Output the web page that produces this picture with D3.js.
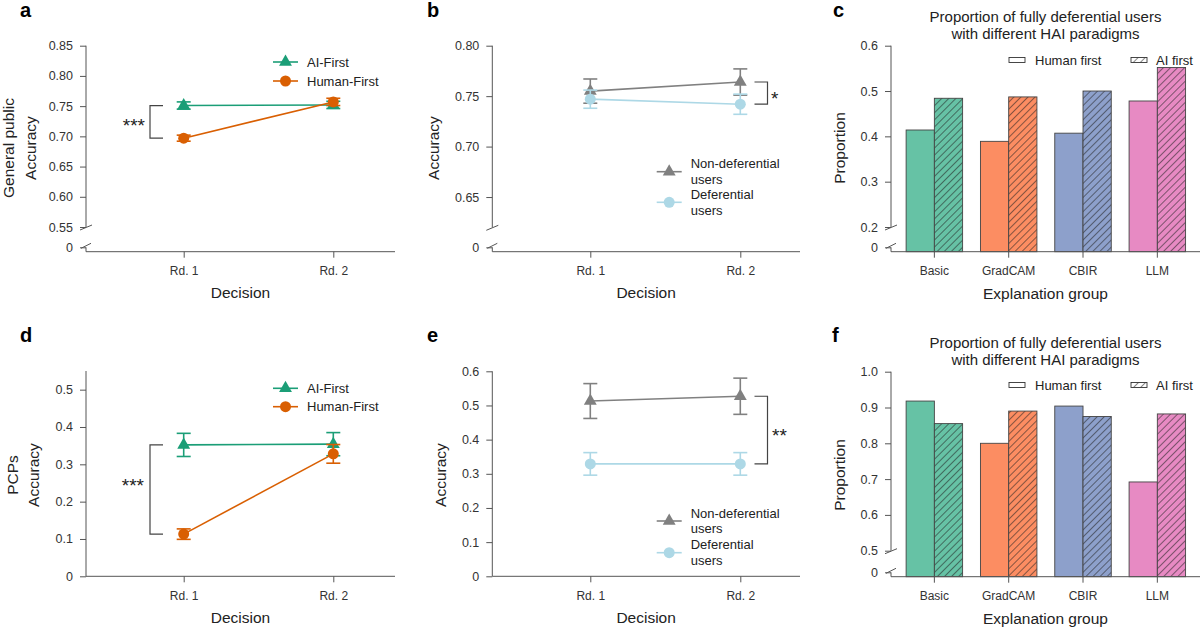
<!DOCTYPE html>
<html lang="en">
<head>
<meta charset="UTF-8">
<title>Deferential users and HAI paradigms</title>
<script src="https://d3js.org/d3.v7.min.js"></script>
<style>
  body { margin: 0; background: #fff; font-family: "Liberation Sans", Arial, sans-serif; }
  svg text { fill: #222; }
</style>
</head>
<body>
<svg id="fig" width="1200" height="627"></svg>
<script>
// ---- data ----
const rounds = ["Rd. 1", "Rd. 2"];
const groups = ["Basic", "GradCAM", "CBIR", "LLM"];

// a: general public
const aAIFirst = [0.751, 0.752];
const aAIFirstErr = [0.006, 0.006];
const aHumanFirst = [0.697, 0.757];
const aHumanFirstErr = [0.005, 0.006];
const aTicks = [0, 0.55, 0.60, 0.65, 0.70, 0.75, 0.80, 0.85];

// b: general public, deferential vs not
const bNonDef = [0.755, 0.764];
const bNonDefErr = [0.012, 0.013];
const bDef = [0.747, 0.742];
const bDefErr = [0.009, 0.010];
const bTicks = [0, 0.65, 0.70, 0.75, 0.80];

// c: proportion of fully deferential users (general public)
const cHumanFirst = [0.414, 0.389, 0.407, 0.478];
const cAIFirst = [0.484, 0.487, 0.500, 0.552];
const cTicks = [0, 0.2, 0.3, 0.4, 0.5, 0.6];

// d: PCPs
const dAIFirst = [0.352, 0.354];
const dAIFirstErr = [0.031, 0.031];
const dHumanFirst = [0.113, 0.328];
const dHumanFirstErr = [0.014, 0.025];
const dTicks = [0, 0.1, 0.2, 0.3, 0.4, 0.5];

// e: PCPs, deferential vs not
const eNonDef = [0.513, 0.527];
const eNonDefErr = [0.051, 0.053];
const eDef = [0.329, 0.329];
const eDefErr = [0.033, 0.033];
const eTicks = [0, 0.1, 0.2, 0.3, 0.4, 0.5, 0.6];

// f: proportion of fully deferential users (PCPs)
const fHumanFirst = [0.918, 0.800, 0.904, 0.692];
const fAIFirst = [0.855, 0.890, 0.875, 0.882];
const fTicks = [0, 0.5, 0.6, 0.7, 0.8, 0.9, 1.0];

const groupColors = ["#66c2a5", "#fc8d62", "#8da0cb", "#e78ac3"];
const green = "#1b9e77", orange = "#d95f02", grey = "#808080", lightBlue = "#add8e6";
const axisColor = "#555";

const svg = d3.select("#fig");

// hatch for "AI first" bars
svg.append("defs").append("pattern")
    .attr("id", "hatch")
    .attr("patternUnits", "userSpaceOnUse")
    .attr("width", 5).attr("height", 5)
    .attr("patternTransform", "rotate(45)")
  .append("line")
    .attr("x1", 0).attr("y1", 0).attr("x2", 0).attr("y2", 5)
    .attr("stroke", "#222").attr("stroke-width", 1.1);

function fmtTick(digits) {
    return d => d === 0 ? "0" : d3.format("." + digits + "f")(d);
}

function panelLetter(t, x, y) {
    svg.append("text").attr("x", x).attr("y", y)
        .attr("font-size", 20).attr("font-weight", "bold")
        .style("fill", "#000").text(t);
}

function line(g, x1, y1, x2, y2, color, w) {
    g.append("line").attr("x1", x1).attr("y1", y1).attr("x2", x2).attr("y2", y2)
        .attr("stroke", color || axisColor).attr("stroke-width", w || 1);
}

// y axis with optional break, plus the x axis base line
function drawAxes(g, o, x) {
    const ax = g.append("g").attr("transform", `translate(${o.x0},0)`)
        .call(d3.axisLeft(o.y).tickValues(o.ticks).tickFormat(o.fmt).tickSize(6).tickPadding(7))
        .call(a => a.select(".domain").remove());
    ax.selectAll("line").attr("stroke", axisColor);
    ax.selectAll("text").attr("font-size", 12.5).style("fill", "#333")
        .attr("font-family", "Liberation Sans, Arial, sans-serif");

    if (o.brk != null) {
        const yb = o.y(o.brk), y0 = o.y(0);
        line(g, o.x0, o.y(o.top), o.x0, yb);
        line(g, o.x0 - 6, yb + 3, o.x0 + 6, yb - 2);
        line(g, o.x0, y0, o.x0, o.axisY);
        line(g, o.x0 - 5, y0 + 1, o.x0 + 5, y0 - 4);
    } else {
        line(g, o.x0, o.y(o.top), o.x0, o.axisY);
    }
    line(g, o.x0, o.axisY, o.x1, o.axisY);

    const bx = g.append("g").attr("transform", `translate(0,${o.axisY})`)
        .call(d3.axisBottom(x).tickSize(6).tickPadding(9).tickSizeOuter(0))
        .call(a => a.select(".domain").remove());
    bx.selectAll("line").attr("stroke", axisColor);
    bx.selectAll("text").attr("font-size", 12).style("fill", "#333")
        .attr("font-family", "Liberation Sans, Arial, sans-serif");

    const cx = (o.x0 + o.x1) / 2;
    g.append("text").attr("x", cx).attr("y", o.xLabelY).attr("text-anchor", "middle")
        .attr("font-size", 15.5).text(o.xLabel);
    o.yLabels.forEach(l => {
        g.append("text").attr("transform", `translate(${l.x},${o.yLabelCy}) rotate(-90)`)
            .attr("text-anchor", "middle").attr("font-size", 15.5).text(l.text);
    });
}

function marker(g, sym, cx, cy, color) {
    if (sym === "tri") {
        g.append("path").attr("d", d3.symbol(d3.symbolTriangle, 72)())
            .attr("transform", `translate(${cx},${cy})`).attr("fill", color);
    } else {
        g.append("circle").attr("cx", cx).attr("cy", cy).attr("r", 5.5).attr("fill", color);
    }
}

function linePanel(o) {
    const g = svg.append("g");
    const x = d3.scalePoint().domain(rounds).range(o.xr);
    drawAxes(g, o, x);

    o.series.forEach(s => {
        const pts = rounds.map((r, i) => ({
            x: x(r), y: o.y(s.vals[i]),
            hi: o.y(s.vals[i] + s.errs[i]), lo: o.y(s.vals[i] - s.errs[i])
        }));
        g.append("path").attr("d", d3.line().x(d => d.x).y(d => d.y)(pts))
            .attr("fill", "none").attr("stroke", s.color).attr("stroke-width", 1.6);
        pts.forEach(p => {
            line(g, p.x, p.hi, p.x, p.lo, s.color, 1.6);
            line(g, p.x - 7, p.hi, p.x + 7, p.hi, s.color, 1.6);
            line(g, p.x - 7, p.lo, p.x + 7, p.lo, s.color, 1.6);
            marker(g, s.sym, p.x, p.y, s.color);
        });
    });

    // legend
    o.series.forEach((s, i) => {
        const ly = o.legend.ys[i];
        line(g, o.legend.x, ly, o.legend.x + 25, ly, s.color, 1.6);
        marker(g, s.sym, o.legend.x + 12.5, ly, s.color);
        s.label.forEach((t, j) => {
            g.append("text").attr("x", o.legend.x + 34).attr("y", ly + 4.5 + (j - (s.label.length - 1) / 2) * 15.5)
                .attr("font-size", 13).text(t);
        });
    });

    // significance bracket
    const b = o.bracket;
    const y1 = o.y(b.v1), y2 = o.y(b.v2);
    const dir = b.side === "left" ? 1 : -1;
    g.append("path")
        .attr("d", `M${b.x + dir * 13},${y1}H${b.x}V${y2}H${b.x + dir * 13}`)
        .attr("fill", "none").attr("stroke", "#444").attr("stroke-width", 1.2);
    g.append("text").attr("x", b.tx).attr("y", b.ty)
        .attr("text-anchor", b.side === "left" ? "end" : "start")
        .attr("font-size", 19).style("fill", "#222").text(b.stars);
}

function barPanel(o) {
    const g = svg.append("g");
    const x = d3.scaleBand().domain(groups).range(o.xr).paddingInner(0.24).paddingOuter(0.12);
    const xs = d3.scaleBand().domain(["human", "ai"]).range([0, x.bandwidth()]);

    groups.forEach((name, i) => {
        const hy = o.y(o.human[i]), ay = o.y(o.ai[i]);
        g.append("rect").attr("x", x(name) + xs("human")).attr("y", hy)
            .attr("width", xs.bandwidth()).attr("height", o.axisY - hy)
            .attr("fill", groupColors[i]).attr("stroke", "#444").attr("stroke-width", 0.9);
        g.append("rect").attr("x", x(name) + xs("ai")).attr("y", ay)
            .attr("width", xs.bandwidth()).attr("height", o.axisY - ay)
            .attr("fill", groupColors[i]);
        g.append("rect").attr("x", x(name) + xs("ai")).attr("y", ay)
            .attr("width", xs.bandwidth()).attr("height", o.axisY - ay)
            .attr("fill", "url(#hatch)").attr("stroke", "#444").attr("stroke-width", 0.9);
    });
    drawAxes(g, o, x);

    // title
    o.title.forEach((t, j) => {
        g.append("text").attr("x", (o.x0 + o.x1) / 2).attr("y", o.titleY + j * 17)
            .attr("text-anchor", "middle").attr("font-size", 15).text(t);
    });

    // legend
    const ly = o.legendY;
    g.append("rect").attr("x", 1009).attr("y", ly - 2.5).attr("width", 16).attr("height", 5)
        .attr("fill", "#fff").attr("stroke", "#333").attr("stroke-width", 0.9);
    g.append("text").attr("x", 1035).attr("y", ly + 4.5).attr("font-size", 13).text("Human first");
    g.append("rect").attr("x", 1131).attr("y", ly - 2.5).attr("width", 16).attr("height", 5)
        .attr("fill", "url(#hatch)").attr("stroke", "#333").attr("stroke-width", 0.9);
    g.append("text").attr("x", 1156).attr("y", ly + 4.5).attr("font-size", 13).text("AI first");
}

// ---- panel a ----
linePanel({
    x0: 86, x1: 395, xr: [183.7, 333.3],
    y: d3.scaleLinear().domain([0, 0.55, 0.85]).range([247.3, 227, 45.7]),
    ticks: aTicks, fmt: fmtTick(2), brk: 0.55, top: 0.85, axisY: 251.7,
    xLabel: "Decision", xLabelY: 297.5,
    yLabels: [{ text: "General public", x: 14 }, { text: "Accuracy", x: 36 }], yLabelCy: 148,
    series: [
        { vals: aAIFirst, errs: aAIFirstErr, color: green, sym: "tri", label: ["AI-First"] },
        { vals: aHumanFirst, errs: aHumanFirstErr, color: orange, sym: "circle", label: ["Human-First"] }
    ],
    legend: { x: 273, ys: [62, 81] },
    bracket: { x: 150, v1: aAIFirst[0], v2: aHumanFirst[0], side: "left", stars: "***", tx: 145, ty: 132 }
});

// ---- panel b ----
linePanel({
    x0: 492.3, x1: 800, xr: [590.3, 740.3],
    y: d3.scaleLinear().domain([0, 0.62, 0.80]).range([247.3, 227.3, 45.7]),
    ticks: bTicks, fmt: fmtTick(2), brk: 0.62, top: 0.80, axisY: 251.7,
    xLabel: "Decision", xLabelY: 297.5,
    yLabels: [{ text: "Accuracy", x: 439 }], yLabelCy: 148,
    series: [
        { vals: bNonDef, errs: bNonDefErr, color: grey, sym: "tri", label: ["Non-deferential", "users"] },
        { vals: bDef, errs: bDefErr, color: lightBlue, sym: "circle", label: ["Deferential", "users"] }
    ],
    legend: { x: 656.7, ys: [171.7, 202.3] },
    bracket: { x: 767.5, v1: bNonDef[1], v2: bDef[1], side: "right", stars: "*", tx: 771, ty: 105 }
});

// ---- panel c ----
barPanel({
    x0: 891, x1: 1200, xr: [897.2, 1194.5],
    y: d3.scaleLinear().domain([0, 0.2, 0.6]).range([247.3, 227, 45.7]),
    ticks: cTicks, fmt: fmtTick(1), brk: 0.2, top: 0.6, axisY: 251.7,
    xLabel: "Explanation group", xLabelY: 298.5,
    yLabels: [{ text: "Proportion", x: 845 }], yLabelCy: 148,
    human: cHumanFirst, ai: cAIFirst,
    title: ["Proportion of fully deferential users", "with different HAI paradigms"], titleY: 21.5,
    legendY: 60
});

// ---- panel d ----
linePanel({
    x0: 86, x1: 395, xr: [183.7, 333.3],
    y: d3.scaleLinear().domain([0, 0.55]).range([576.3, 371]),
    ticks: dTicks, fmt: fmtTick(1), brk: null, top: 0.55, axisY: 576.3,
    xLabel: "Decision", xLabelY: 623,
    yLabels: [{ text: "PCPs", x: 18 }, { text: "Accuracy", x: 39 }], yLabelCy: 475,
    series: [
        { vals: dAIFirst, errs: dAIFirstErr, color: green, sym: "tri", label: ["AI-First"] },
        { vals: dHumanFirst, errs: dHumanFirstErr, color: orange, sym: "circle", label: ["Human-First"] }
    ],
    legend: { x: 273, ys: [388.3, 406.7] },
    bracket: { x: 150, v1: dAIFirst[0], v2: dHumanFirst[0], side: "left", stars: "***", tx: 144, ty: 492 }
});

// ---- panel e ----
linePanel({
    x0: 492.3, x1: 800, xr: [590.3, 740.3],
    y: d3.scaleLinear().domain([0, 0.6]).range([576.3, 371.3]),
    ticks: eTicks, fmt: fmtTick(1), brk: null, top: 0.6, axisY: 576.3,
    xLabel: "Decision", xLabelY: 623,
    yLabels: [{ text: "Accuracy", x: 446 }], yLabelCy: 475,
    series: [
        { vals: eNonDef, errs: eNonDefErr, color: grey, sym: "tri", label: ["Non-deferential", "users"] },
        { vals: eDef, errs: eDefErr, color: lightBlue, sym: "circle", label: ["Deferential", "users"] }
    ],
    legend: { x: 656.7, ys: [521, 552.7] },
    bracket: { x: 767.5, v1: eNonDef[1], v2: eDef[1], side: "right", stars: "**", tx: 772, ty: 442 }
});

// ---- panel f ----
barPanel({
    x0: 891, x1: 1200, xr: [897.2, 1194.5],
    y: d3.scaleLinear().domain([0, 0.5, 1.0]).range([572.3, 550.7, 371.7]),
    ticks: fTicks, fmt: fmtTick(1), brk: 0.5, top: 1.0, axisY: 576.7,
    xLabel: "Explanation group", xLabelY: 623.5,
    yLabels: [{ text: "Proportion", x: 845 }], yLabelCy: 475,
    human: fHumanFirst, ai: fAIFirst,
    title: ["Proportion of fully deferential users", "with different HAI paradigms"], titleY: 347.5,
    legendY: 385
});

panelLetter("a", 20, 17);
panelLetter("b", 427, 17);
panelLetter("c", 833, 17);
panelLetter("d", 20, 342);
panelLetter("e", 427, 342);
panelLetter("f", 832, 342);
</script>
</body>
</html>
